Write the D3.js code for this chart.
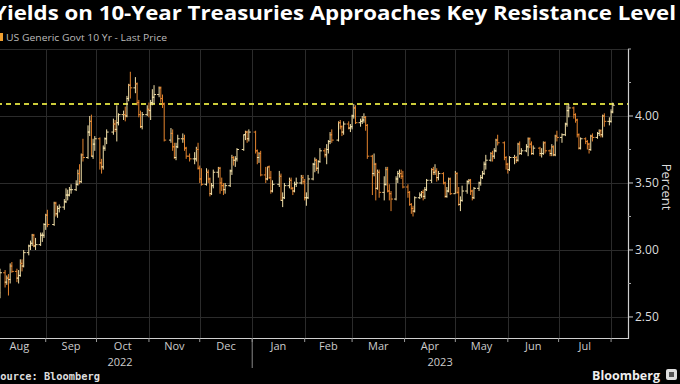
<!DOCTYPE html>
<html><head><meta charset="utf-8">
<script src="https://cdn.jsdelivr.net/npm/d3@7"></script>
<style>html,body{margin:0;padding:0;background:#000;} svg{display:block;}</style>
</head><body>
<svg id="chart" width="680" height="384"></svg>
<script>
const titleText = "Yields on 10-Year Treasuries Approaches Key Resistance Level";
const legendText = "US Generic Govt 10 Yr - Last Price";
const sourceText = "Source: Bloomberg";
const yAxisTitle = "Percent";
const resistanceLevel = 4.09;
const yTickValues = [2.5, 3.0, 3.5, 4.0];
const yMinorTicks = [2.75, 3.25, 3.75, 4.25, 4.5];
const monthLabels = ["Aug","Sep","Oct","Nov","Dec","Jan","Feb","Mar","Apr","May","Jun","Jul"];
const monthStarts = ["2022-08-01","2022-09-01","2022-10-01","2022-11-01","2022-12-01","2023-01-01","2023-02-01","2023-03-01","2023-04-01","2023-05-01","2023-06-01","2023-07-01","2023-08-01"];
const yearLabels = ["2022","2023"];

const dates = [
"2022-08-01","2022-08-02","2022-08-03","2022-08-04","2022-08-05","2022-08-08","2022-08-09","2022-08-10","2022-08-11","2022-08-12","2022-08-15","2022-08-16","2022-08-17","2022-08-18","2022-08-19","2022-08-22","2022-08-23","2022-08-24","2022-08-25","2022-08-26","2022-08-29","2022-08-30","2022-08-31",
"2022-09-01","2022-09-02","2022-09-06","2022-09-07","2022-09-08","2022-09-09","2022-09-12","2022-09-13","2022-09-14","2022-09-15","2022-09-16","2022-09-19","2022-09-20","2022-09-21","2022-09-22","2022-09-23","2022-09-26","2022-09-27","2022-09-28","2022-09-29","2022-09-30",
"2022-10-03","2022-10-04","2022-10-05","2022-10-06","2022-10-07","2022-10-11","2022-10-12","2022-10-13","2022-10-14","2022-10-17","2022-10-18","2022-10-19","2022-10-20","2022-10-21","2022-10-24","2022-10-25","2022-10-26","2022-10-27","2022-10-28","2022-10-31",
"2022-11-01","2022-11-02","2022-11-03","2022-11-04","2022-11-07","2022-11-08","2022-11-09","2022-11-10","2022-11-14","2022-11-15","2022-11-16","2022-11-17","2022-11-18","2022-11-21","2022-11-22","2022-11-23","2022-11-25","2022-11-28","2022-11-29","2022-11-30",
"2022-12-01","2022-12-02","2022-12-05","2022-12-06","2022-12-07","2022-12-08","2022-12-09","2022-12-12","2022-12-13","2022-12-14","2022-12-15","2022-12-16","2022-12-19","2022-12-20","2022-12-21","2022-12-22","2022-12-23","2022-12-27","2022-12-28","2022-12-29","2022-12-30",
"2023-01-03","2023-01-04","2023-01-05","2023-01-06","2023-01-09","2023-01-10","2023-01-11","2023-01-12","2023-01-13","2023-01-17","2023-01-18","2023-01-19","2023-01-20","2023-01-23","2023-01-24","2023-01-25","2023-01-26","2023-01-27","2023-01-30","2023-01-31",
"2023-02-01","2023-02-02","2023-02-03","2023-02-06","2023-02-07","2023-02-08","2023-02-09","2023-02-10","2023-02-13","2023-02-14","2023-02-15","2023-02-16","2023-02-17","2023-02-21","2023-02-22","2023-02-23","2023-02-24","2023-02-27","2023-02-28",
"2023-03-01","2023-03-02","2023-03-03","2023-03-06","2023-03-07","2023-03-08","2023-03-09","2023-03-10","2023-03-13","2023-03-14","2023-03-15","2023-03-16","2023-03-17","2023-03-20","2023-03-21","2023-03-22","2023-03-23","2023-03-24","2023-03-27","2023-03-28","2023-03-29","2023-03-30","2023-03-31",
"2023-04-03","2023-04-04","2023-04-05","2023-04-06","2023-04-07","2023-04-10","2023-04-11","2023-04-12","2023-04-13","2023-04-14","2023-04-17","2023-04-18","2023-04-19","2023-04-20","2023-04-21","2023-04-24","2023-04-25","2023-04-26","2023-04-27","2023-04-28",
"2023-05-01","2023-05-02","2023-05-03","2023-05-04","2023-05-05","2023-05-08","2023-05-09","2023-05-10","2023-05-11","2023-05-12","2023-05-15","2023-05-16","2023-05-17","2023-05-18","2023-05-19","2023-05-22","2023-05-23","2023-05-24","2023-05-25","2023-05-26","2023-05-30","2023-05-31",
"2023-06-01","2023-06-02","2023-06-05","2023-06-06","2023-06-07","2023-06-08","2023-06-09","2023-06-12","2023-06-13","2023-06-14","2023-06-15","2023-06-16","2023-06-20","2023-06-21","2023-06-22","2023-06-23","2023-06-26","2023-06-27","2023-06-28","2023-06-29","2023-06-30",
"2023-07-03","2023-07-05","2023-07-06","2023-07-07","2023-07-10","2023-07-11","2023-07-12","2023-07-13","2023-07-14","2023-07-17","2023-07-18","2023-07-19","2023-07-20","2023-07-21","2023-07-24","2023-07-25","2023-07-26","2023-07-27","2023-07-28","2023-07-31",
"2023-08-01","2023-08-02"
];

const opens = [
2.65,2.57,2.75,2.73,2.68,2.83,2.76,2.79,2.78,2.88,2.84,2.79,2.81,2.90,2.88,2.98,3.03,3.05,3.11,3.03,3.04,3.11,3.11,
3.19,3.26,3.19,3.35,3.27,3.31,3.32,3.36,3.41,3.41,3.45,3.45,3.49,3.57,3.51,3.71,3.69,3.88,3.96,3.70,3.79,
3.83,3.65,3.62,3.76,3.83,3.88,3.94,3.90,3.95,4.01,4.01,4.00,4.13,4.23,4.21,4.24,4.10,4.01,3.92,4.01,
4.05,4.04,4.10,4.14,4.16,4.21,4.13,4.09,3.82,3.87,3.77,3.69,3.77,3.83,3.83,3.76,3.70,3.68,3.68,3.75,
3.61,3.53,3.49,3.58,3.53,3.42,3.48,3.58,3.61,3.50,3.48,3.45,3.48,3.59,3.69,3.67,3.68,3.75,3.86,3.88,3.83,
3.88,3.74,3.69,3.72,3.56,3.53,3.62,3.54,3.44,3.49,3.55,3.37,3.39,3.48,3.52,3.46,3.44,3.49,3.50,3.54,
3.51,3.39,3.39,3.53,3.64,3.67,3.61,3.66,3.74,3.71,3.75,3.81,3.86,3.82,3.95,3.92,3.88,3.94,3.91,
3.92,4.00,4.06,3.95,3.96,3.97,3.99,3.93,3.70,3.57,3.64,3.46,3.58,3.43,3.49,3.60,3.44,3.42,3.38,3.53,3.57,3.57,3.55,
3.47,3.43,3.34,3.31,3.29,3.39,3.41,3.43,3.40,3.45,3.52,3.60,3.58,3.59,3.54,3.57,3.50,3.40,3.44,3.53,
3.42,3.57,3.43,3.34,3.37,3.44,3.51,3.52,3.44,3.39,3.46,3.50,3.54,3.57,3.64,3.67,3.72,3.70,3.74,3.82,3.80,3.69,
3.64,3.60,3.69,3.69,3.67,3.79,3.72,3.74,3.77,3.83,3.79,3.72,3.76,3.72,3.72,3.80,3.74,3.72,3.77,3.71,3.85,
3.84,3.86,3.94,4.04,4.06,4.01,3.97,3.86,3.76,3.83,3.81,3.79,3.75,3.85,3.84,3.87,3.89,3.86,4.00,3.96,
3.96,4.03
];

const highs = [
2.67,2.78,2.79,2.76,2.86,2.85,2.81,2.82,2.90,2.91,2.86,2.85,2.93,2.93,3.00,3.04,3.07,3.12,3.12,3.09,3.13,3.13,3.20,
3.27,3.30,3.36,3.36,3.33,3.34,3.38,3.46,3.45,3.47,3.49,3.52,3.60,3.64,3.72,3.83,3.93,4.00,4.01,3.83,3.85,
3.84,3.68,3.78,3.84,3.90,3.98,3.97,4.08,4.02,4.04,4.07,4.15,4.24,4.33,4.29,4.25,4.12,4.04,4.03,4.08,
4.10,4.12,4.20,4.23,4.22,4.22,4.16,4.10,3.91,3.90,3.80,3.80,3.86,3.87,3.86,3.77,3.72,3.73,3.77,3.80,
3.63,3.61,3.61,3.60,3.54,3.50,3.60,3.62,3.62,3.54,3.50,3.50,3.60,3.71,3.70,3.70,3.76,3.86,3.89,3.89,3.90,
3.89,3.75,3.73,3.74,3.62,3.62,3.63,3.59,3.52,3.59,3.57,3.43,3.50,3.54,3.54,3.47,3.51,3.54,3.56,3.56,
3.53,3.43,3.56,3.65,3.69,3.68,3.67,3.76,3.76,3.79,3.82,3.88,3.90,3.96,3.97,3.93,3.96,3.96,3.94,
4.01,4.09,4.08,3.98,4.00,4.02,4.00,3.94,3.71,3.72,3.65,3.60,3.60,3.55,3.62,3.62,3.49,3.44,3.55,3.59,3.60,3.60,3.59,
3.49,3.44,3.35,3.33,3.40,3.43,3.44,3.45,3.47,3.53,3.61,3.62,3.64,3.61,3.59,3.58,3.51,3.47,3.54,3.54,
3.59,3.58,3.47,3.40,3.48,3.52,3.53,3.53,3.45,3.47,3.51,3.56,3.59,3.66,3.71,3.73,3.74,3.76,3.83,3.86,3.81,3.70,
3.65,3.70,3.71,3.70,3.80,3.81,3.76,3.79,3.84,3.84,3.81,3.78,3.77,3.76,3.81,3.81,3.75,3.79,3.78,3.86,3.89,
3.87,3.95,4.08,4.09,4.07,4.02,3.98,3.87,3.84,3.84,3.82,3.80,3.86,3.87,3.88,3.90,3.90,4.01,4.02,3.99,
4.05,4.10
];

const lows = [
2.56,2.52,2.68,2.63,2.64,2.72,2.74,2.66,2.75,2.83,2.76,2.75,2.80,2.84,2.87,2.96,3.00,3.03,3.02,3.00,3.03,3.06,3.09,
3.15,3.17,3.18,3.25,3.24,3.28,3.30,3.35,3.37,3.40,3.42,3.44,3.48,3.49,3.50,3.66,3.68,3.85,3.70,3.68,3.74,
3.60,3.57,3.60,3.74,3.79,3.86,3.88,3.81,3.93,3.97,3.96,3.99,4.11,4.13,4.17,4.08,3.99,3.91,3.90,4.00,
3.99,3.97,4.08,4.09,4.14,4.10,4.06,3.81,3.80,3.74,3.68,3.67,3.76,3.80,3.74,3.68,3.66,3.64,3.66,3.60,
3.50,3.48,3.48,3.50,3.40,3.41,3.46,3.54,3.42,3.44,3.41,3.42,3.47,3.56,3.63,3.62,3.66,3.74,3.82,3.80,3.81,
3.72,3.64,3.65,3.55,3.50,3.52,3.53,3.42,3.43,3.47,3.37,3.32,3.38,3.46,3.45,3.41,3.43,3.47,3.49,3.49,
3.37,3.33,3.38,3.52,3.58,3.59,3.57,3.65,3.69,3.64,3.72,3.79,3.80,3.81,3.90,3.85,3.86,3.90,3.88,
3.90,3.98,3.94,3.92,3.94,3.95,3.89,3.68,3.41,3.55,3.37,3.45,3.39,3.37,3.48,3.43,3.37,3.29,3.37,3.50,3.54,3.53,3.46,
3.39,3.33,3.27,3.25,3.28,3.38,3.39,3.37,3.38,3.44,3.50,3.56,3.56,3.51,3.52,3.49,3.39,3.39,3.43,3.41,
3.42,3.42,3.33,3.29,3.36,3.42,3.49,3.41,3.37,3.38,3.44,3.48,3.53,3.56,3.60,3.66,3.66,3.68,3.73,3.78,3.67,3.60,
3.57,3.59,3.64,3.65,3.66,3.71,3.71,3.73,3.70,3.76,3.71,3.71,3.70,3.69,3.71,3.72,3.70,3.70,3.70,3.70,3.81,
3.80,3.85,3.92,3.99,3.98,3.95,3.84,3.75,3.75,3.79,3.75,3.72,3.74,3.81,3.83,3.85,3.84,3.84,3.92,3.93,
3.95,4.02
];

const closes = [
2.57,2.75,2.73,2.68,2.83,2.76,2.79,2.78,2.88,2.84,2.79,2.81,2.90,2.88,2.98,3.03,3.05,3.11,3.03,3.04,3.11,3.11,3.19,
3.26,3.19,3.35,3.27,3.31,3.32,3.36,3.41,3.41,3.45,3.45,3.49,3.57,3.51,3.71,3.69,3.88,3.96,3.70,3.79,3.83,
3.65,3.62,3.76,3.83,3.88,3.94,3.90,3.95,4.01,4.01,4.00,4.13,4.23,4.21,4.24,4.10,4.01,3.92,4.01,4.05,
4.04,4.10,4.14,4.16,4.21,4.13,4.09,3.82,3.87,3.77,3.69,3.77,3.83,3.83,3.76,3.70,3.68,3.68,3.75,3.61,
3.53,3.49,3.58,3.53,3.42,3.48,3.58,3.61,3.50,3.48,3.45,3.48,3.59,3.69,3.67,3.68,3.75,3.86,3.88,3.83,3.88,
3.74,3.69,3.72,3.56,3.53,3.62,3.54,3.44,3.49,3.55,3.37,3.39,3.48,3.52,3.46,3.44,3.49,3.50,3.54,3.51,
3.39,3.39,3.53,3.64,3.67,3.61,3.66,3.74,3.71,3.75,3.81,3.86,3.82,3.95,3.92,3.88,3.94,3.91,3.92,
4.00,4.06,3.95,3.96,3.97,3.99,3.93,3.70,3.57,3.64,3.46,3.58,3.43,3.49,3.60,3.44,3.42,3.38,3.53,3.57,3.57,3.55,3.47,
3.43,3.34,3.31,3.29,3.39,3.41,3.43,3.40,3.45,3.52,3.60,3.58,3.59,3.54,3.57,3.50,3.40,3.44,3.53,3.42,
3.57,3.43,3.34,3.37,3.44,3.51,3.52,3.44,3.39,3.46,3.50,3.54,3.57,3.64,3.67,3.72,3.70,3.74,3.82,3.80,3.69,3.64,
3.60,3.69,3.69,3.67,3.79,3.72,3.74,3.77,3.83,3.79,3.72,3.76,3.72,3.72,3.80,3.74,3.72,3.77,3.71,3.85,3.84,
3.86,3.94,4.04,4.06,4.01,3.97,3.86,3.76,3.83,3.81,3.79,3.75,3.85,3.84,3.87,3.89,3.86,4.00,3.96,3.96,
4.03,4.08
];

const parse = d3.timeParse("%Y-%m-%d");
const svg = d3.select("#chart");
svg.append("rect").attr("width", 680).attr("height", 384).attr("fill", "#000");

const plotL = -12, plotR = 628, plotT = 49, plotB = 338;
const x = d3.scaleTime().domain([parse("2022-08-05"), parse("2023-08-11")]).range([0, 628]);
const y = d3.scaleLinear().domain([2.343, 4.5]).range([plotB, plotT]);

// title & legend
svg.append("text").attr("x", -7).attr("y", 20).text(titleText)
  .attr("font-family", "'Open Sans', 'Liberation Sans', sans-serif").attr("font-weight", 700)
  .attr("font-size", 20).attr("fill", "#fff")
  .attr("textLength", 683).attr("lengthAdjust", "spacingAndGlyphs");
svg.append("rect").attr("x", 0).attr("y", 33).attr("width", 3).attr("height", 8).attr("fill", "#f0a030");
svg.append("text").attr("x", 6).attr("y", 41).text(legendText)
  .attr("font-family", "'Open Sans', sans-serif").attr("font-size", 9).attr("fill", "#bbb")
  .attr("textLength", 161).attr("lengthAdjust", "spacingAndGlyphs");

// grid
const grid = svg.append("g").attr("stroke", "#2b2b2b").attr("stroke-width", 1);
const msDates = monthStarts.map(parse);
grid.selectAll("line.v").data(msDates.slice(1)).join("line")
  .attr("x1", d => Math.round(x(d)) + 0.5).attr("x2", d => Math.round(x(d)) + 0.5)
  .attr("y1", plotT).attr("y2", plotB);
grid.selectAll("line.h").data(yTickValues.concat([4.5])).join("line")
  .attr("x1", plotL).attr("x2", plotR)
  .attr("y1", d => Math.round(y(d)) + 0.5).attr("y2", d => Math.round(y(d)) + 0.5);

// resistance dashed line
svg.append("line").attr("x1", plotL).attr("x2", plotR)
  .attr("y1", y(resistanceLevel)).attr("y2", y(resistanceLevel))
  .attr("stroke", "#cccc3a").attr("stroke-width", 2).attr("stroke-dasharray", "5,4");

// OHLC bars
svg.append("clipPath").attr("id", "clip").append("rect")
  .attr("x", plotL).attr("y", plotT - 5).attr("width", plotR - plotL).attr("height", plotB - plotT + 5);
const bars = svg.append("g").attr("clip-path", "url(#clip)");
const rows = dates.map((d, i) => ({date: parse(d), o: opens[i], h: highs[i], l: lows[i], c: closes[i]}));
const bg = bars.selectAll("g").data(rows).join("g")
  .attr("stroke", d => d.c >= d.o ? "#f1dfa8" : "#e4842e").attr("stroke-width", 1);
bg.append("line").attr("x1", d => x(d.date)).attr("x2", d => x(d.date))
  .attr("y1", d => y(d.h)).attr("y2", d => y(d.l));
bg.append("line").attr("x1", d => x(d.date) - 2).attr("x2", d => x(d.date))
  .attr("y1", d => y(d.o)).attr("y2", d => y(d.o));
bg.append("line").attr("x1", d => x(d.date)).attr("x2", d => x(d.date) + 2)
  .attr("y1", d => y(d.c)).attr("y2", d => y(d.c));

// axes lines
svg.append("line").attr("x1", plotR + 0.5).attr("x2", plotR + 0.5).attr("y1", plotT).attr("y2", plotB + 1)
  .attr("stroke", "#cfcfcf").attr("stroke-width", 1.2);
svg.append("line").attr("x1", plotL).attr("x2", plotR + 1).attr("y1", plotB + 0.5).attr("y2", plotB + 0.5)
  .attr("stroke", "#cfcfcf").attr("stroke-width", 1.2);

// y axis ticks & labels
const yAxis = svg.append("g");
yAxis.selectAll("line.maj").data(yTickValues).join("line")
  .attr("x1", plotR).attr("x2", plotR + 5).attr("y1", d => y(d)).attr("y2", d => y(d))
  .attr("stroke", "#cfcfcf");
yAxis.selectAll("line.min").data(yMinorTicks).join("line")
  .attr("x1", plotR).attr("x2", plotR + 3).attr("y1", d => y(d)).attr("y2", d => y(d))
  .attr("stroke", "#aaa");
yAxis.selectAll("text").data(yTickValues).join("text")
  .attr("x", plotR + 7).attr("y", d => y(d)).attr("dy", "0.35em")
  .text(d => d3.format(".2f")(d))
  .attr("font-family", "'Open Sans', sans-serif").attr("font-size", 12).attr("fill", "#ddd");
svg.append("text").attr("transform", `translate(662,187) rotate(90)`)
  .attr("text-anchor", "middle").text(yAxisTitle)
  .attr("font-family", "'Open Sans', sans-serif").attr("font-size", 13).attr("fill", "#ddd");

// x axis ticks & labels
const xAxis = svg.append("g");
xAxis.selectAll("line").data(msDates.slice(1)).join("line")
  .attr("x1", d => x(d)).attr("x2", d => x(d)).attr("y1", plotB).attr("y2", plotB + 4)
  .attr("stroke", "#999");
xAxis.selectAll("text").data(monthLabels).join("text")
  .attr("x", (d, i) => (x(msDates[i]) + x(msDates[i + 1])) / 2).attr("y", 350)
  .attr("text-anchor", "middle").text(d => d)
  .attr("font-family", "'Open Sans', sans-serif").attr("font-size", 11).attr("fill", "#ccc");
const yearBoundary = parse("2023-01-01");
svg.append("line").attr("x1", x(yearBoundary)).attr("x2", x(yearBoundary))
  .attr("y1", plotB).attr("y2", 368).attr("stroke", "#888");
const yearCenters = [120, (x(yearBoundary) + plotR) / 2];
svg.selectAll("text.yr").data(yearLabels).join("text")
  .attr("x", (d, i) => yearCenters[i]).attr("y", 366).attr("text-anchor", "middle").text(d => d)
  .attr("font-family", "'Open Sans', sans-serif").attr("font-size", 11).attr("fill", "#ccc");

// source & logo
svg.append("text").attr("x", -6).attr("y", 380).text(sourceText)
  .attr("font-family", "'DejaVu Sans Mono', monospace").attr("font-weight", 700)
  .attr("font-size", 10).attr("fill", "#ddd")
  .attr("textLength", 106).attr("lengthAdjust", "spacingAndGlyphs");
svg.append("text").attr("x", 592).attr("y", 380).text("Bloomberg")
  .attr("font-family", "'Open Sans', sans-serif").attr("font-weight", 700)
  .attr("font-size", 13).attr("fill", "#eee")
  .attr("textLength", 68).attr("lengthAdjust", "spacingAndGlyphs");
svg.append("rect").attr("x", 666).attr("y", 369).attr("width", 11).attr("height", 11).attr("rx", 2).attr("fill", "#ddd");
svg.append("rect").attr("x", 669).attr("y", 372).attr("width", 5).attr("height", 5).attr("fill", "#555");
</script>
</body></html>
